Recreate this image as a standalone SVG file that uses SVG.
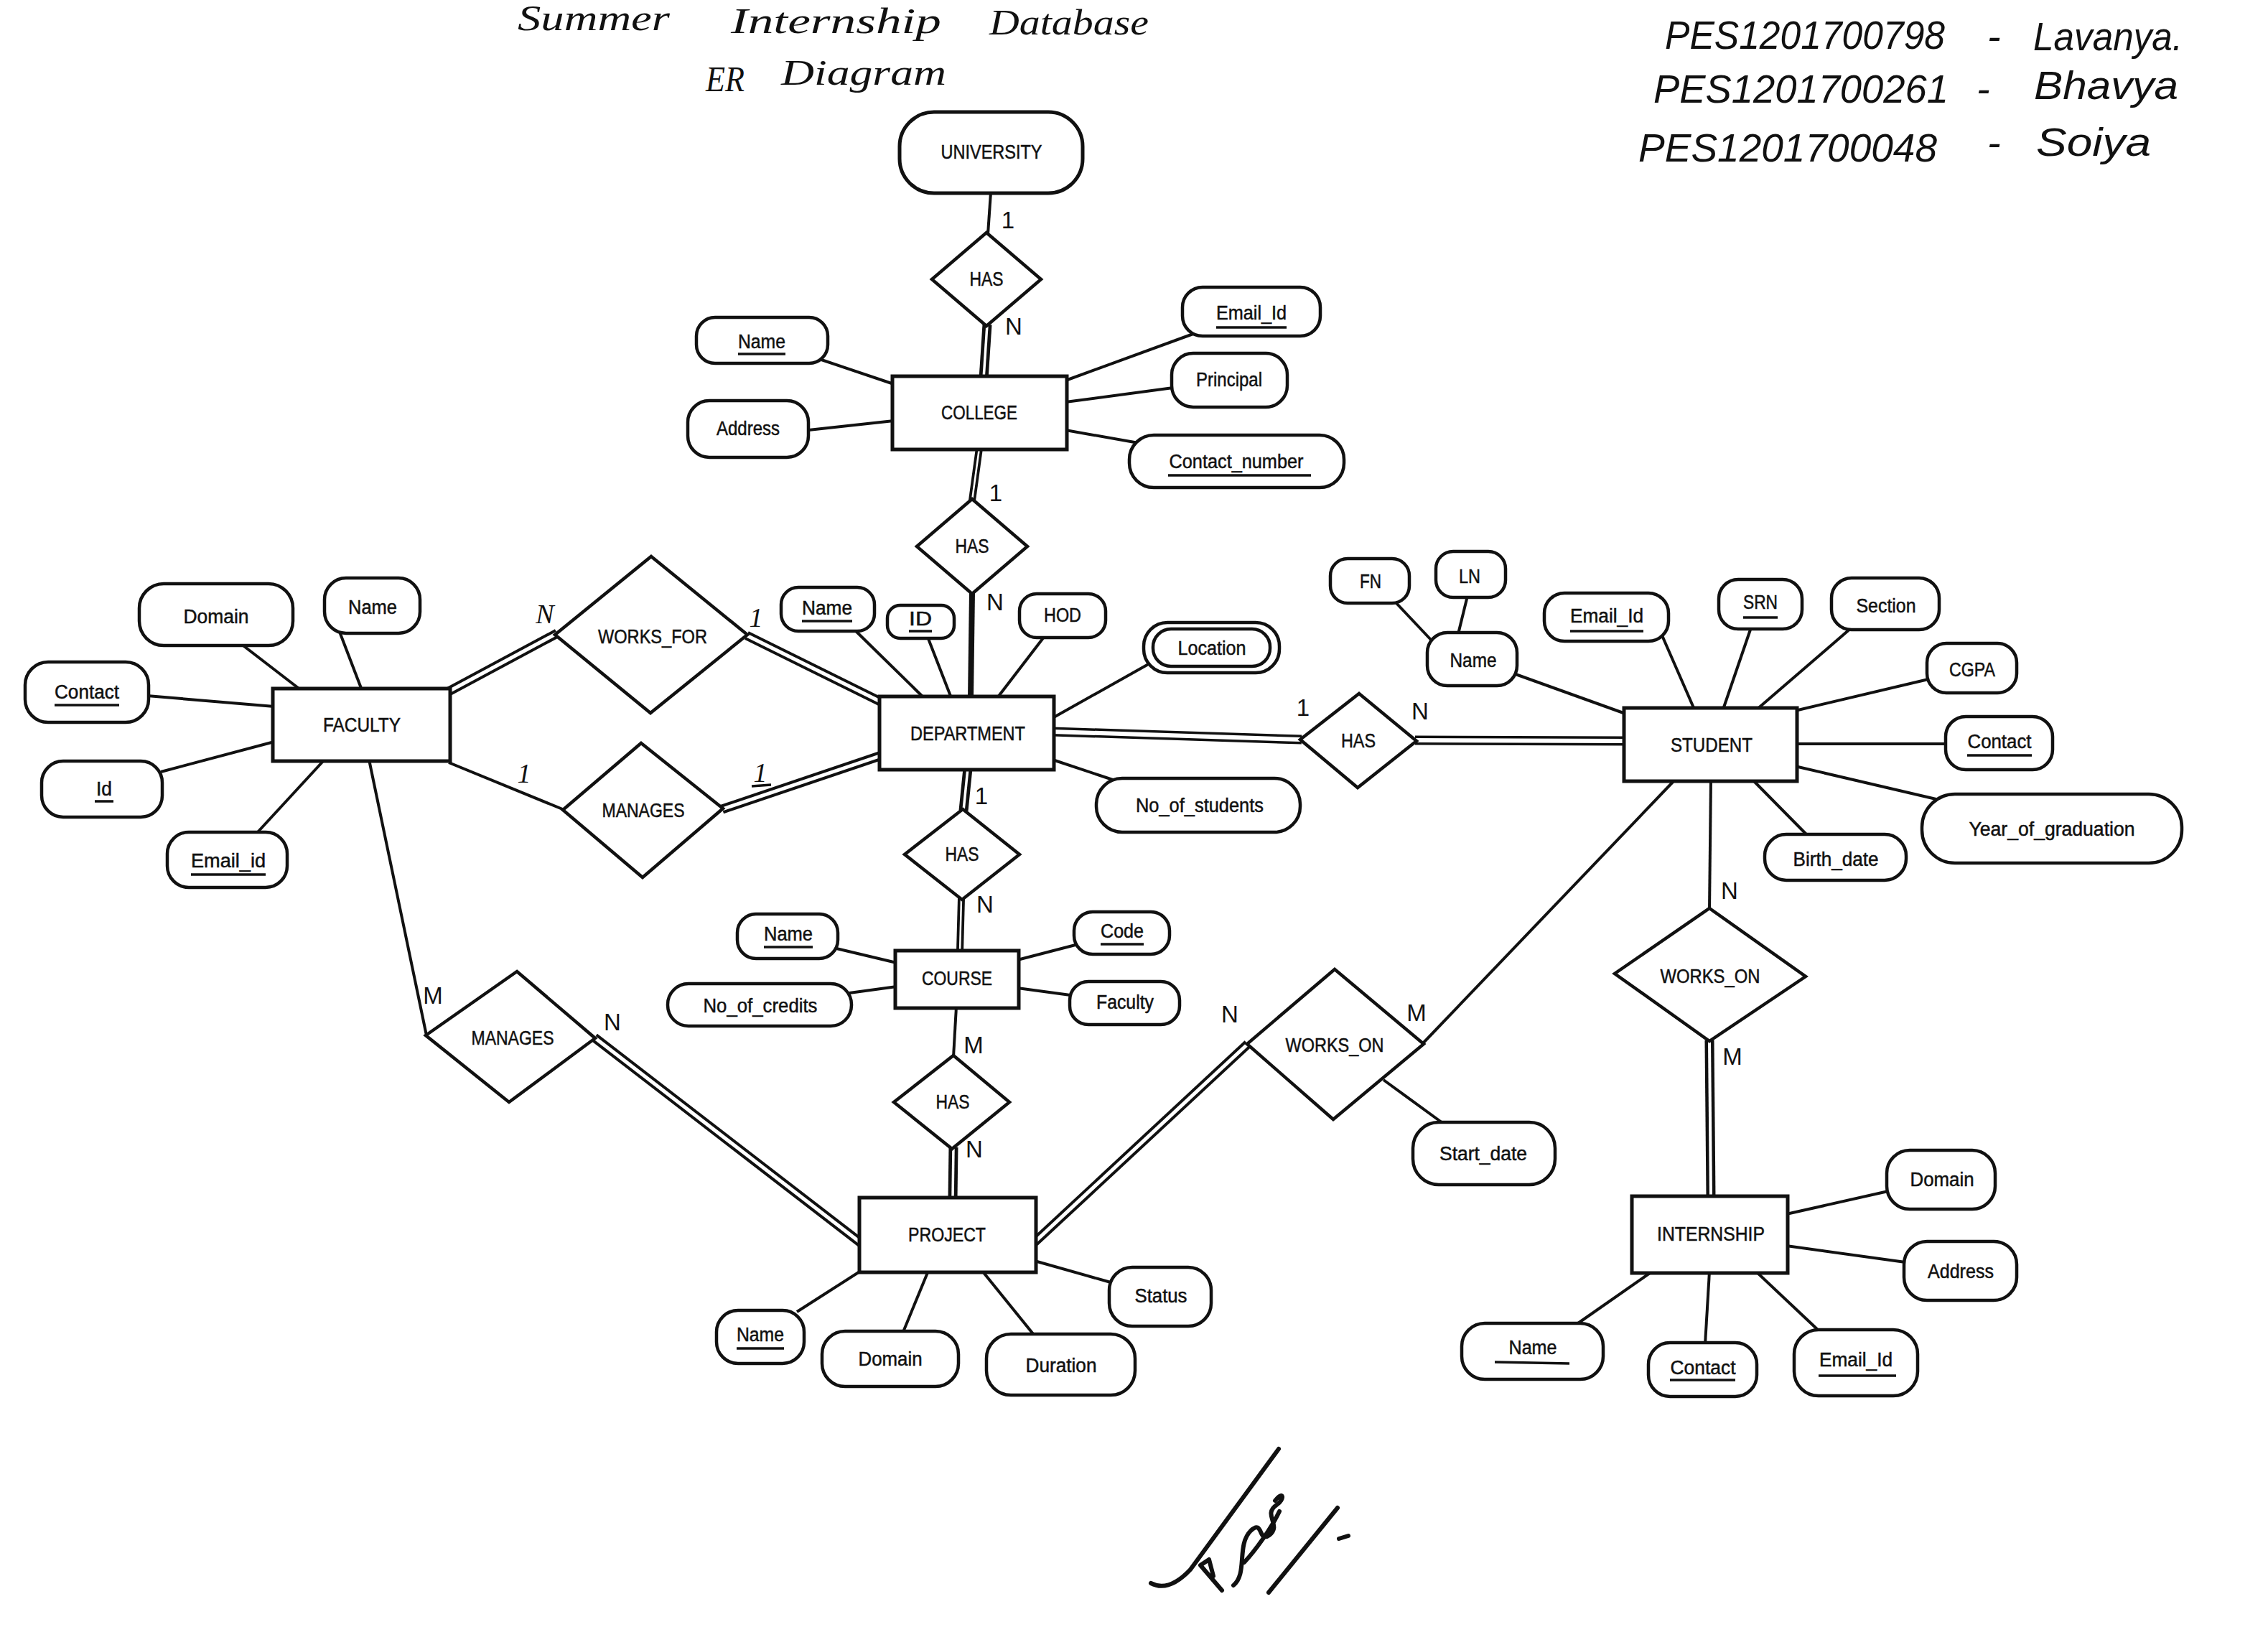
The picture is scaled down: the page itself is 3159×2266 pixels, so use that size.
<svg xmlns="http://www.w3.org/2000/svg" width="3159" height="2266" viewBox="0 0 3159 2266">
<defs>
<style>
.ent{fill:#fff;stroke:#111;stroke-width:5}
.att{fill:#fff;stroke:#111;stroke-width:4.5}
.rel{fill:#fff;stroke:#111;stroke-width:4.5;stroke-linejoin:miter}
.ln{stroke:#111;stroke-width:4;fill:none}
.db{stroke:#111;stroke-width:13;fill:none}
.db-gap{stroke:#fff;stroke-width:5;fill:none}
.tk{stroke:#111;stroke-width:10;fill:none}
.tk-gap{stroke:#fff;stroke-width:2.5;fill:none}
.solid{stroke:#111;stroke-width:8;fill:none}
text{font-family:"Liberation Sans",Arial,sans-serif;fill:#111}
.lbl{font-size:27px;text-anchor:middle;stroke:#111;stroke-width:0.5}
.card{font-size:33px;text-anchor:middle}
.cardh{font-family:"Liberation Serif","Times New Roman",serif;font-style:italic;font-size:38px;text-anchor:middle}
.ul{stroke:#111;stroke-width:3.5}
.hand{font-family:"Liberation Serif","Times New Roman",serif;font-style:italic;font-size:50px}
.ids{font-style:italic;font-size:56px}
.sig{fill:none;stroke:#111;stroke-width:6;stroke-linecap:round;stroke-linejoin:round}
</style>
</defs>
<rect width="3159" height="2266" fill="#fff"/>

<!-- handwritten heading -->
<g id="heading">
<text class="hand" x="721" y="42" textLength="212" lengthAdjust="spacingAndGlyphs">Summer</text>
<text class="hand" x="1018" y="46" textLength="293" lengthAdjust="spacingAndGlyphs">Internship</text>
<text class="hand" x="1378" y="48" textLength="222" lengthAdjust="spacingAndGlyphs">Database</text>
<text class="hand" x="983" y="127" textLength="54" lengthAdjust="spacingAndGlyphs">ER</text>
<text class="hand" x="1088" y="118" textLength="230" lengthAdjust="spacingAndGlyphs">Diagram</text>
</g>

<!-- team list -->
<g id="team">
<text class="ids" x="2319" y="68" textLength="390" lengthAdjust="spacingAndGlyphs">PES1201700798</text>
<text class="ids" x="2768" y="70">-</text>
<text class="ids" x="2832" y="70" textLength="208" lengthAdjust="spacingAndGlyphs">Lavanya.</text>
<text class="ids" x="2303" y="143" textLength="411" lengthAdjust="spacingAndGlyphs">PES1201700261</text>
<text class="ids" x="2753" y="143">-</text>
<text class="ids" x="2833" y="138" textLength="201" lengthAdjust="spacingAndGlyphs">Bhavya</text>
<text class="ids" x="2282" y="225" textLength="416" lengthAdjust="spacingAndGlyphs">PES1201700048</text>
<text class="ids" x="2768" y="218">-</text>
<text class="ids" x="2836" y="217" textLength="160" lengthAdjust="spacingAndGlyphs">Soiya</text>
</g>

<!-- connectors -->
<g id="connectors">
<!-- plain links -->
<line class="ln" x1="1380" y1="268" x2="1376" y2="326"/>
<line class="ln" x1="1144" y1="501" x2="1245" y2="535"/>
<line class="ln" x1="1126" y1="599" x2="1245" y2="586"/>
<line class="ln" x1="1662" y1="465" x2="1484" y2="530"/>
<line class="ln" x1="1634" y1="540" x2="1484" y2="560"/>
<line class="ln" x1="1586" y1="617" x2="1484" y2="599"/>
<line class="ln" x1="1189" y1="876" x2="1287" y2="972"/>
<line class="ln" x1="1292" y1="887" x2="1325" y2="972"/>
<line class="ln" x1="1455" y1="886" x2="1389" y2="972"/>
<line class="ln" x1="1612" y1="918" x2="1466" y2="1000"/>
<line class="ln" x1="1466" y1="1058" x2="1556" y2="1088"/>
<line class="ln" x1="336" y1="897" x2="419" y2="961"/>
<line class="ln" x1="473" y1="880" x2="504" y2="961"/>
<line class="ln" x1="205" y1="969" x2="382" y2="984"/>
<line class="ln" x1="224" y1="1075" x2="382" y2="1033"/>
<line class="ln" x1="357" y1="1161" x2="452" y2="1058"/>
<line class="ln" x1="625" y1="1062" x2="786" y2="1128"/>
<line class="ln" x1="514" y1="1058" x2="594" y2="1442"/>
<line class="ln" x1="1165" y1="1321" x2="1249" y2="1341"/>
<line class="ln" x1="1183" y1="1383" x2="1249" y2="1374"/>
<line class="ln" x1="1498" y1="1316" x2="1417" y2="1337"/>
<line class="ln" x1="1491" y1="1386" x2="1417" y2="1376"/>
<line class="ln" x1="1332" y1="1402" x2="1328" y2="1472"/>
<line class="ln" x1="1110" y1="1827" x2="1199" y2="1770"/>
<line class="ln" x1="1258" y1="1855" x2="1293" y2="1770"/>
<line class="ln" x1="1440" y1="1859" x2="1368" y2="1770"/>
<line class="ln" x1="1547" y1="1786" x2="1441" y2="1756"/>
<line class="ln" x1="1981" y1="1454" x2="2333" y2="1086"/>
<line class="ln" x1="1927" y1="1504" x2="2012" y2="1566"/>
<line class="ln" x1="2111" y1="939" x2="2264" y2="994"/>
<line class="ln" x1="1943" y1="838" x2="1994" y2="892"/>
<line class="ln" x1="2044" y1="830" x2="2031" y2="883"/>
<line class="ln" x1="2315" y1="885" x2="2360" y2="988"/>
<line class="ln" x1="2439" y1="874" x2="2400" y2="988"/>
<line class="ln" x1="2578" y1="875" x2="2447" y2="988"/>
<line class="ln" x1="2686" y1="946" x2="2500" y2="990"/>
<line class="ln" x1="2500" y1="1036" x2="2712" y2="1036"/>
<line class="ln" x1="2500" y1="1067" x2="2701" y2="1114"/>
<line class="ln" x1="2441" y1="1086" x2="2518" y2="1164"/>
<line class="ln" x1="2383" y1="1086" x2="2381" y2="1267"/>
<line class="ln" x1="2488" y1="1691" x2="2630" y2="1659"/>
<line class="ln" x1="2488" y1="1735" x2="2654" y2="1758"/>
<line class="ln" x1="2301" y1="1771" x2="2195" y2="1845"/>
<line class="ln" x1="2381" y1="1771" x2="2375" y2="1872"/>
<line class="ln" x1="2446" y1="1771" x2="2533" y2="1853"/>
<!-- total participation (double) links -->
<g class="db">
<line x1="1375" y1="452" x2="1370" y2="528"/>
<line x1="625" y1="963" x2="776" y2="882"/>
<line x1="1040" y1="885" x2="1228" y2="978"/>
<line x1="1006" y1="1127" x2="1228" y2="1052"/>
<line x1="1466" y1="1019" x2="1813" y2="1030"/>
<line x1="1971" y1="1031" x2="2264" y2="1032"/>
<line x1="1348" y1="1070" x2="1342" y2="1129"/>
<line x1="1328" y1="1598" x2="1327" y2="1670"/>
<line x1="828" y1="1445" x2="1199" y2="1731"/>
<line x1="1441" y1="1730" x2="1738" y2="1454"/>
<line x1="2381" y1="1449" x2="2383" y2="1668"/>
</g>
<g class="db-gap">
<line x1="1375" y1="452" x2="1370" y2="528" stroke-width="3.5"/>
<line x1="625" y1="963" x2="776" y2="882"/>
<line x1="1040" y1="885" x2="1228" y2="978"/>
<line x1="1006" y1="1127" x2="1228" y2="1052"/>
<line x1="1466" y1="1019" x2="1813" y2="1030" stroke-width="6"/>
<line x1="1971" y1="1031" x2="2264" y2="1032" stroke-width="6"/>
<line x1="1348" y1="1070" x2="1342" y2="1129" stroke-width="3.5"/>
<line x1="1328" y1="1598" x2="1327" y2="1670" stroke-width="3.5"/>
<line x1="828" y1="1445" x2="1199" y2="1731"/>
<line x1="1441" y1="1730" x2="1738" y2="1454"/>
<line x1="2381" y1="1449" x2="2383" y2="1668" stroke-width="4"/>
</g>
<!-- heavy links -->
<line class="tk" x1="1364" y1="624" x2="1354" y2="697"/>
<line class="tk-gap" x1="1364" y1="624" x2="1354" y2="697"/>
<line class="tk" x1="1339" y1="1251" x2="1337" y2="1326"/>
<line class="tk-gap" x1="1339" y1="1251" x2="1337" y2="1326"/>
<line class="solid" x1="1354" y1="825" x2="1352" y2="972"/>
</g>

<!-- cardinality marks -->
<g id="cardinality">
<text class="card" x="1404" y="318">1</text>
<text class="card" x="1412" y="466">N</text>
<text class="card" x="1387" y="698">1</text>
<text class="card" x="1386" y="850">N</text>
<text class="cardh" x="759" y="868">N</text>
<text class="cardh" x="1053" y="873">1</text>
<text class="cardh" x="730" y="1090">1</text>
<text class="cardh" x="1059" y="1089">1</text>
<line class="ul" x1="1047" y1="1095" x2="1074" y2="1093"/>
<text class="card" x="1367" y="1120">1</text>
<text class="card" x="1372" y="1271">N</text>
<text class="card" x="1356" y="1467">M</text>
<text class="card" x="1357" y="1612">N</text>
<text class="card" x="603" y="1398">M</text>
<text class="card" x="853" y="1435">N</text>
<text class="card" x="1713" y="1424">N</text>
<text class="card" x="1973" y="1422">M</text>
<text class="card" x="1815" y="997">1</text>
<text class="card" x="1978" y="1002">N</text>
<text class="card" x="2409" y="1252">N</text>
<text class="card" x="2413" y="1483">M</text>
</g>

<!-- UNIVERSITY -->
<g id="university">
<rect class="ent" x="1253" y="156" width="255" height="113" rx="48"/>
<text class="lbl" x="1381" y="221" textLength="141" lengthAdjust="spacingAndGlyphs">UNIVERSITY</text>
</g>
<g id="rel-university-college">
<polygon class="rel" points="1374,324 1450,389 1374,454 1298,389"/>
<text class="lbl" x="1374" y="398" textLength="47" lengthAdjust="spacingAndGlyphs">HAS</text>
</g>

<!-- COLLEGE -->
<g id="college">
<rect class="ent" x="1243" y="524" width="243" height="102"/>
<text class="lbl" x="1364" y="584" textLength="106" lengthAdjust="spacingAndGlyphs">COLLEGE</text>
</g>
<g id="college-name">
<rect class="att" x="970" y="442" width="183" height="64" rx="26"/>
<text class="lbl" x="1061" y="485" textLength="66" lengthAdjust="spacingAndGlyphs">Name</text>
<line class="ul" x1="1028" y1="493" x2="1094" y2="493"/>
</g>
<g id="college-address">
<rect class="att" x="958" y="558" width="168" height="79" rx="30"/>
<text class="lbl" x="1042" y="606" textLength="88" lengthAdjust="spacingAndGlyphs">Address</text>
</g>
<g id="college-email">
<rect class="att" x="1647" y="400" width="192" height="68" rx="28"/>
<text class="lbl" x="1743" y="445" textLength="98" lengthAdjust="spacingAndGlyphs">Email_Id</text>
<line class="ul" x1="1694" y1="456" x2="1792" y2="456"/>
</g>
<g id="college-principal">
<rect class="att" x="1632" y="492" width="161" height="75" rx="30"/>
<text class="lbl" x="1712" y="538" textLength="92" lengthAdjust="spacingAndGlyphs">Principal</text>
</g>
<g id="college-contact">
<rect class="att" x="1573" y="606" width="299" height="73" rx="34"/>
<text class="lbl" x="1722" y="652" textLength="187" lengthAdjust="spacingAndGlyphs">Contact_number</text>
<line class="ul" x1="1627" y1="662" x2="1826" y2="662"/>
</g>
<g id="rel-college-department">
<polygon class="rel" points="1354,695 1431,761 1354,827 1277,761"/>
<text class="lbl" x="1354" y="770" textLength="47" lengthAdjust="spacingAndGlyphs">HAS</text>
</g>

<!-- DEPARTMENT -->
<g id="department">
<rect class="ent" x="1225" y="970" width="243" height="102"/>
<text class="lbl" x="1348" y="1031" textLength="160" lengthAdjust="spacingAndGlyphs">DEPARTMENT</text>
</g>
<g id="department-name">
<rect class="att" x="1088" y="818" width="130" height="61" rx="24"/>
<text class="lbl" x="1152" y="856" textLength="70" lengthAdjust="spacingAndGlyphs">Name</text>
<line class="ul" x1="1117" y1="865" x2="1187" y2="865"/>
</g>
<g id="department-id">
<rect class="att" x="1236" y="843" width="93" height="46" rx="18"/>
<text class="lbl" x="1282" y="871" textLength="32" lengthAdjust="spacingAndGlyphs">ID</text>
<line class="ul" x1="1266" y1="879" x2="1298" y2="879"/>
</g>
<g id="department-hod">
<rect class="att" x="1420" y="827" width="120" height="61" rx="24"/>
<text class="lbl" x="1480" y="866" textLength="52" lengthAdjust="spacingAndGlyphs">HOD</text>
</g>
<g id="department-location">
<rect class="att" x="1593" y="867" width="189" height="70" rx="33"/>
<rect class="att" x="1606" y="876" width="163" height="52" rx="25"/>
<text class="lbl" x="1688" y="912" textLength="95" lengthAdjust="spacingAndGlyphs">Location</text>
</g>
<g id="department-students">
<rect class="att" x="1527" y="1084" width="284" height="75" rx="36"/>
<text class="lbl" x="1671" y="1131" textLength="178" lengthAdjust="spacingAndGlyphs">No_of_students</text>
</g>

<!-- FACULTY -->
<g id="faculty">
<rect class="ent" x="380" y="959" width="247" height="101"/>
<text class="lbl" x="504" y="1019" textLength="108" lengthAdjust="spacingAndGlyphs">FACULTY</text>
</g>
<g id="faculty-domain">
<rect class="att" x="194" y="813" width="214" height="86" rx="34"/>
<text class="lbl" x="301" y="868" textLength="91" lengthAdjust="spacingAndGlyphs">Domain</text>
</g>
<g id="faculty-name">
<rect class="att" x="452" y="805" width="133" height="77" rx="30"/>
<text class="lbl" x="519" y="855" textLength="68" lengthAdjust="spacingAndGlyphs">Name</text>
</g>
<g id="faculty-contact">
<rect class="att" x="35" y="922" width="172" height="84" rx="32"/>
<text class="lbl" x="121" y="973" textLength="90" lengthAdjust="spacingAndGlyphs">Contact</text>
<line class="ul" x1="76" y1="982" x2="166" y2="982"/>
</g>
<g id="faculty-id">
<rect class="att" x="58" y="1060" width="168" height="78" rx="30"/>
<text class="lbl" x="145" y="1108" textLength="22" lengthAdjust="spacingAndGlyphs">Id</text>
<line class="ul" x1="132" y1="1116" x2="158" y2="1116"/>
</g>
<g id="faculty-email">
<rect class="att" x="233" y="1159" width="167" height="77" rx="30"/>
<text class="lbl" x="318" y="1208" textLength="104" lengthAdjust="spacingAndGlyphs">Email_id</text>
<line class="ul" x1="266" y1="1218" x2="370" y2="1218"/>
</g>
<g id="rel-works-for">
<polygon class="rel" points="907,775 1041,884 906,993 773,884"/>
<text class="lbl" x="909" y="896" textLength="152" lengthAdjust="spacingAndGlyphs">WORKS_FOR</text>
</g>
<g id="rel-manages-department">
<polygon class="rel" points="893,1035 1007,1126 895,1222 784,1128"/>
<text class="lbl" x="896" y="1138" textLength="115" lengthAdjust="spacingAndGlyphs">MANAGES</text>
</g>
<g id="rel-manages-project">
<polygon class="rel" points="720,1353 829,1446 709,1535 593,1442"/>
<text class="lbl" x="714" y="1455" textLength="115" lengthAdjust="spacingAndGlyphs">MANAGES</text>
</g>

<!-- COURSE -->
<g id="rel-department-course">
<polygon class="rel" points="1341,1127 1420,1190 1340,1253 1260,1190"/>
<text class="lbl" x="1340" y="1199" textLength="47" lengthAdjust="spacingAndGlyphs">HAS</text>
</g>
<g id="course">
<rect class="ent" x="1247" y="1324" width="172" height="80"/>
<text class="lbl" x="1333" y="1372" textLength="98" lengthAdjust="spacingAndGlyphs">COURSE</text>
</g>
<g id="course-name">
<rect class="att" x="1027" y="1273" width="140" height="62" rx="26"/>
<text class="lbl" x="1098" y="1310" textLength="68" lengthAdjust="spacingAndGlyphs">Name</text>
<line class="ul" x1="1064" y1="1319" x2="1132" y2="1319"/>
</g>
<g id="course-credits">
<rect class="att" x="930" y="1370" width="256" height="59" rx="29"/>
<text class="lbl" x="1059" y="1410" textLength="159" lengthAdjust="spacingAndGlyphs">No_of_credits</text>
</g>
<g id="course-code">
<rect class="att" x="1496" y="1270" width="133" height="59" rx="26"/>
<text class="lbl" x="1563" y="1306" textLength="60" lengthAdjust="spacingAndGlyphs">Code</text>
<line class="ul" x1="1533" y1="1315" x2="1593" y2="1315"/>
</g>
<g id="course-faculty">
<rect class="att" x="1490" y="1367" width="153" height="60" rx="26"/>
<text class="lbl" x="1567" y="1405" textLength="80" lengthAdjust="spacingAndGlyphs">Faculty</text>
</g>
<g id="rel-course-project">
<polygon class="rel" points="1328,1470 1406,1535 1326,1600 1245,1535"/>
<text class="lbl" x="1327" y="1544" textLength="47" lengthAdjust="spacingAndGlyphs">HAS</text>
</g>

<!-- PROJECT -->
<g id="project">
<rect class="ent" x="1197" y="1668" width="246" height="104"/>
<text class="lbl" x="1319" y="1729" textLength="108" lengthAdjust="spacingAndGlyphs">PROJECT</text>
</g>
<g id="project-name">
<rect class="att" x="998" y="1825" width="122" height="74" rx="30"/>
<text class="lbl" x="1059" y="1868" textLength="66" lengthAdjust="spacingAndGlyphs">Name</text>
<line class="ul" x1="1026" y1="1878" x2="1092" y2="1878"/>
</g>
<g id="project-domain">
<rect class="att" x="1145" y="1854" width="190" height="77" rx="32"/>
<text class="lbl" x="1240" y="1902" textLength="89" lengthAdjust="spacingAndGlyphs">Domain</text>
</g>
<g id="project-duration">
<rect class="att" x="1374" y="1858" width="207" height="85" rx="34"/>
<text class="lbl" x="1478" y="1911" textLength="99" lengthAdjust="spacingAndGlyphs">Duration</text>
</g>
<g id="project-status">
<rect class="att" x="1545" y="1765" width="142" height="82" rx="32"/>
<text class="lbl" x="1617" y="1814" textLength="73" lengthAdjust="spacingAndGlyphs">Status</text>
</g>
<g id="rel-works-on-project">
<polygon class="rel" points="1859,1350 1983,1454 1857,1559 1737,1454"/>
<text class="lbl" x="1859" y="1465" textLength="137" lengthAdjust="spacingAndGlyphs">WORKS_ON</text>
</g>
<g id="works-on-start">
<rect class="att" x="1968" y="1563" width="198" height="87" rx="36"/>
<text class="lbl" x="2066" y="1616" textLength="122" lengthAdjust="spacingAndGlyphs">Start_date</text>
</g>

<!-- STUDENT -->
<g id="rel-department-student">
<polygon class="rel" points="1893,966 1973,1032 1891,1097 1811,1030"/>
<text class="lbl" x="1892" y="1041" textLength="48" lengthAdjust="spacingAndGlyphs">HAS</text>
</g>
<g id="student">
<rect class="ent" x="2262" y="986" width="241" height="102"/>
<text class="lbl" x="2384" y="1047" textLength="114" lengthAdjust="spacingAndGlyphs">STUDENT</text>
</g>
<g id="student-fn">
<rect class="att" x="1853" y="778" width="110" height="62" rx="24"/>
<text class="lbl" x="1909" y="819" textLength="30" lengthAdjust="spacingAndGlyphs">FN</text>
</g>
<g id="student-ln">
<rect class="att" x="2000" y="768" width="97" height="64" rx="24"/>
<text class="lbl" x="2047" y="812" textLength="30" lengthAdjust="spacingAndGlyphs">LN</text>
</g>
<g id="student-name">
<rect class="att" x="1988" y="881" width="125" height="74" rx="28"/>
<text class="lbl" x="2052" y="929" textLength="65" lengthAdjust="spacingAndGlyphs">Name</text>
</g>
<g id="student-email">
<rect class="att" x="2151" y="826" width="173" height="67" rx="28"/>
<text class="lbl" x="2238" y="867" textLength="102" lengthAdjust="spacingAndGlyphs">Email_Id</text>
<line class="ul" x1="2187" y1="879" x2="2289" y2="879"/>
</g>
<g id="student-srn">
<rect class="att" x="2394" y="807" width="116" height="69" rx="27"/>
<text class="lbl" x="2452" y="848" textLength="48" lengthAdjust="spacingAndGlyphs">SRN</text>
<line class="ul" x1="2428" y1="860" x2="2476" y2="860"/>
</g>
<g id="student-section">
<rect class="att" x="2551" y="805" width="150" height="72" rx="28"/>
<text class="lbl" x="2627" y="853" textLength="83" lengthAdjust="spacingAndGlyphs">Section</text>
</g>
<g id="student-cgpa">
<rect class="att" x="2684" y="896" width="125" height="69" rx="27"/>
<text class="lbl" x="2747" y="942" textLength="64" lengthAdjust="spacingAndGlyphs">CGPA</text>
</g>
<g id="student-contact">
<rect class="att" x="2710" y="998" width="149" height="74" rx="28"/>
<text class="lbl" x="2785" y="1042" textLength="89" lengthAdjust="spacingAndGlyphs">Contact</text>
<line class="ul" x1="2740" y1="1052" x2="2830" y2="1052"/>
</g>
<g id="student-year">
<rect class="att" x="2677" y="1106" width="362" height="96" rx="46"/>
<text class="lbl" x="2858" y="1164" textLength="231" lengthAdjust="spacingAndGlyphs">Year_of_graduation</text>
</g>
<g id="student-birth">
<rect class="att" x="2458" y="1162" width="197" height="64" rx="30"/>
<text class="lbl" x="2557" y="1206" textLength="119" lengthAdjust="spacingAndGlyphs">Birth_date</text>
</g>

<!-- INTERNSHIP -->
<g id="rel-works-on-internship">
<polygon class="rel" points="2381,1265 2515,1360 2381,1450 2249,1356"/>
<text class="lbl" x="2382" y="1369" textLength="139" lengthAdjust="spacingAndGlyphs">WORKS_ON</text>
</g>
<g id="internship">
<rect class="ent" x="2273" y="1666" width="217" height="107"/>
<text class="lbl" x="2383" y="1728" textLength="150" lengthAdjust="spacingAndGlyphs">INTERNSHIP</text>
</g>
<g id="internship-domain">
<rect class="att" x="2628" y="1602" width="151" height="82" rx="32"/>
<text class="lbl" x="2705" y="1652" textLength="89" lengthAdjust="spacingAndGlyphs">Domain</text>
</g>
<g id="internship-address">
<rect class="att" x="2652" y="1729" width="157" height="82" rx="32"/>
<text class="lbl" x="2731" y="1780" textLength="92" lengthAdjust="spacingAndGlyphs">Address</text>
</g>
<g id="internship-name">
<rect class="att" x="2036" y="1843" width="197" height="78" rx="32"/>
<text class="lbl" x="2135" y="1886" textLength="67" lengthAdjust="spacingAndGlyphs">Name</text>
<line class="ul" x1="2082" y1="1897" x2="2186" y2="1899"/>
</g>
<g id="internship-contact">
<rect class="att" x="2296" y="1870" width="151" height="75" rx="30"/>
<text class="lbl" x="2372" y="1914" textLength="91" lengthAdjust="spacingAndGlyphs">Contact</text>
<line class="ul" x1="2326" y1="1922" x2="2417" y2="1922"/>
</g>
<g id="internship-email">
<rect class="att" x="2499" y="1852" width="172" height="92" rx="34"/>
<text class="lbl" x="2585" y="1903" textLength="102" lengthAdjust="spacingAndGlyphs">Email_Id</text>
<line class="ul" x1="2533" y1="1916" x2="2641" y2="1916"/>
</g>

<!-- signature -->
<g id="signature">
<path class="sig" d="M1603,2205 Q1628,2218 1658,2186 L1781,2018"/>
<path class="sig" d="M1672,2180 L1702,2215 M1672,2180 L1684,2172 L1690,2195"/>
<path class="sig" stroke-width="4" d="M1718,2208 C1738,2192 1722,2152 1742,2132 C1760,2115 1752,2150 1768,2138 C1786,2124 1758,2110 1778,2096 C1790,2088 1788,2075 1776,2090 M1733,2176 C1748,2160 1770,2130 1782,2105"/>
<path class="sig" stroke-width="4" d="M1863,2100 L1767,2218"/>
<path class="sig" stroke-width="4" d="M1865,2143 L1878,2139"/>
</g>
</svg>
